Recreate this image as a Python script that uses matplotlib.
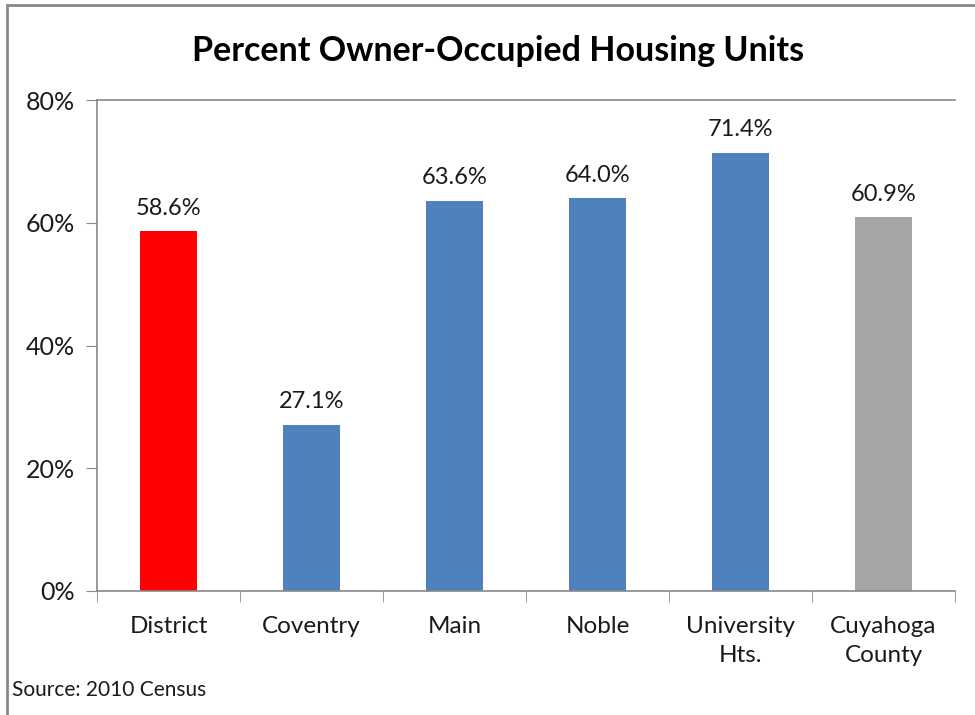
import matplotlib.pyplot as plt
from matplotlib.patches import Rectangle

categories = ["District", "Coventry", "Main", "Noble", "University\nHts.", "Cuyahoga\nCounty"]
values = [58.6, 27.1, 63.6, 64.0, 71.4, 60.9]
colors = ["#FF0000", "#4F81BD", "#4F81BD", "#4F81BD", "#4F81BD", "#A5A5A5"]
yticks = [0, 20, 40, 60, 80]

plt.rcParams['font.family'] = ['Lato', 'DejaVu Sans']

fig = plt.figure(figsize=(9.75, 7.15), dpi=100)
ax = fig.add_axes([97/975, 1 - 591/715, 858/975, 491/715])

x = list(range(len(categories)))
ax.bar(x, values, width=0.4, color=colors)
for xi, v in zip(x, values):
    ax.annotate(f"{v:.1f}%", (xi, v), xytext=(0, 9), textcoords="offset points",
                ha="center", va="bottom", fontsize=17, color="#1a1a1a")

ax.set_xlim(-0.5, len(categories) - 0.5)
ax.set_ylim(0, 80)
ax.set_yticks(yticks)
ax.set_yticklabels([f"{t}%" for t in yticks])
ax.set_xticks(x)
ax.set_xticklabels(categories, linespacing=1.5)
ax.set_xticks([i - 0.5 for i in range(len(categories) + 1)], minor=True)
ax.tick_params(axis="x", which="major", length=0, pad=18, labelsize=17.5, colors="#1a1a1a")
ax.tick_params(axis="x", which="minor", length=8, color="#888888", direction="out")
ax.tick_params(axis="y", length=8, color="#888888", labelsize=18, colors="#1a1a1a", pad=8)
for t in ax.get_yticklines():
    t.set_color("#888888")

for s in ["left", "bottom", "top"]:
    ax.spines[s].set_color("#888888")
    ax.spines[s].set_linewidth(1.2)
ax.spines["right"].set_visible(False)

fig.text(498/975, 1 - 51/715, "Percent Owner-Occupied Housing Units",
         ha="center", va="center", fontsize=24.5, fontweight="bold", color="black")
fig.text(12/975, 1 - 690/715, "Source: 2010 Census", ha="left", va="center",
         fontsize=15, color="#1a1a1a")

fig.patches.append(Rectangle((7/975, -0.05), 1.1, 1 - 5/715 + 0.05, transform=fig.transFigure,
                             fill=False, edgecolor="#888888", linewidth=2))

fig.savefig("out.png", dpi=100)
